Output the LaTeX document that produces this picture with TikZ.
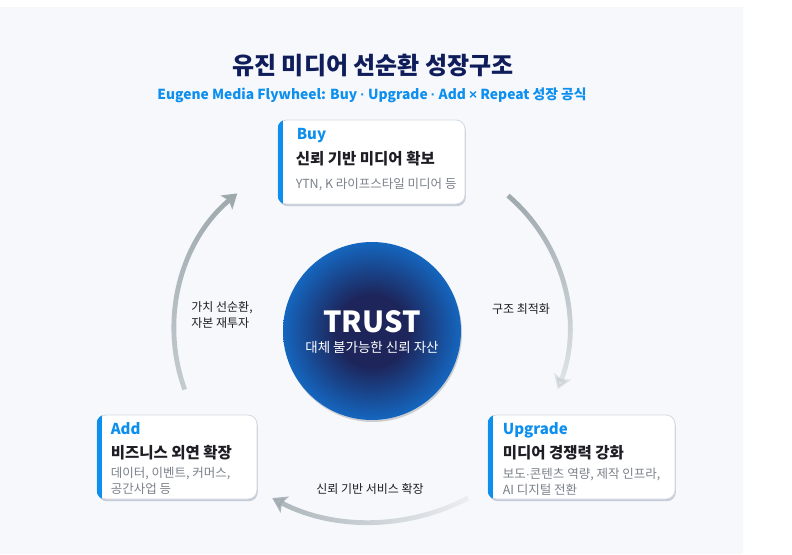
\documentclass[tikz,border=0pt]{standalone}
\usepackage{fontspec}
\setmainfont{Noto Sans CJK KR}
\newfontfamily\latinfont{Liberation Sans}
\usetikzlibrary{arrows.meta, positioning, shadows, fadings}
\definecolor{fwnavy}{HTML}{0F1D5B}
\definecolor{fwblue}{HTML}{0C8FEE}
\definecolor{fwpage}{HTML}{F6F8FC}
\definecolor{fwline}{HTML}{D3DAE4}
\definecolor{fwshadow}{HTML}{7F8A9E}
\definecolor{fwink}{HTML}{1E1E24}
\definecolor{fwgrey}{HTML}{7C818A}
\definecolor{fwarc}{HTML}{9EA9AE}
\definecolor{trustcore}{HTML}{1D255A}
\definecolor{trustedge}{HTML}{1566BF}
\pgfdeclareradialshading{trustshade}{\pgfpoint{0bp}{0bp}}{color(0bp)=(trustcore); color(10bp)=(trustcore); color(25bp)=(trustedge); color(50bp)=(trustedge)}
\tikzfading[name=leftarcfade, top color=transparent!0, bottom color=transparent!45]
\tikzfading[name=rightarcfade, top color=transparent!0, bottom color=transparent!78]
\tikzfading[name=bottomarcfade, left color=transparent!15, right color=transparent!88]

\begin{document}
\begin{tikzpicture}[
    x=1pt, y=-1pt,
    card/.style={draw=fwline, line width=0.8pt, fill=white, rounded corners=9pt, minimum height=84pt,
      drop shadow={shadow xshift=0.8pt, shadow yshift=-2.2pt, opacity=0.4, fill=fwshadow}},
    cardhead/.style={anchor=west, inner sep=0pt, font=\fontsize{15}{17}\selectfont\bfseries, text=fwblue},
    cardmain/.style={anchor=west, inner sep=0pt, font=\fontsize{15.5}{18}\selectfont\bfseries, text=fwink},
    cardnote/.style={anchor=west, inner sep=0pt, align=left, font=\fontsize{12.5}{16}\selectfont, text=fwgrey},
    cue/.style={align=left, inner sep=0pt, font=\fontsize{12}{16}\selectfont, text=fwink},
    flow/.style={line width=4.8pt, draw=fwarc, -{Stealth[length=14pt, width=18pt, inset=3pt]}}
  ]
    \useasboundingbox (0,0) rectangle (792,554);
    \fill[white] (0,0) rectangle (792,554);
    \fill[fwpage] (0,7) rectangle (743,554);

    % heading
    \node[font=\fontsize{24}{28}\selectfont\bfseries, text=fwnavy] (title) at (373,65) {유진 미디어 선순환 성장구조};
    \node[font=\fontsize{13.8}{16}\selectfont\bfseries, text=fwblue] (subtitle) at (372,95)
      {Eugene Media Flywheel: Buy {\latinfont ·} Upgrade {\latinfont ·} Add {\latinfont ×} Repeat 성장 공식};

    % centre
    \node[circle, minimum size=178pt, shade, shading=trustshade,
      drop shadow={shadow xshift=1pt, shadow yshift=-2pt, opacity=0.35}] (trust) at (372,331) {};
    \node[font=\fontsize{29}{32}\selectfont\bfseries, text=white] (trusttitle) at ([yshift=9pt]trust.center) {TRUST};
    \node[font=\fontsize{13.5}{16}\selectfont, text=white] (trustnote) at ([yshift=-16pt]trust.center) {대체 불가능한 신뢰 자산};

    % cards
    \node[card, minimum width=187pt] (buy) at (371.5,162) {};
    \node[card, minimum width=160pt] (add) at (177,457) {};
    \node[card, minimum width=187pt] (upgrade) at (581.5,457) {};
    \foreach \c in {buy, add, upgrade} {
      \begin{scope}
        \clip[rounded corners=9pt] (\c.south west) rectangle (\c.north east);
        \fill[fwblue] (\c.south west) rectangle ([xshift=5pt]\c.north west);
      \end{scope}
    }

    \node[cardhead] (buyhead) at ([xshift=19pt, yshift=-16pt]buy.north west) {Buy};
    \node[cardmain] (buymain) at ([xshift=18pt, yshift=-39pt]buy.north west) {신뢰 기반 미디어 확보};
    \node[cardnote] (buynote) at ([xshift=18pt, yshift=-65pt]buy.north west) {YTN, K 라이프스타일 미디어 등};

    \node[cardhead] (addhead) at ([xshift=14pt, yshift=-14pt]add.north west) {Add};
    \node[cardmain] (addmain) at ([xshift=14pt, yshift=-38pt]add.north west) {비즈니스 외연 확장};
    \node[cardnote] (addnote) at ([xshift=14pt, yshift=-66pt]add.north west) {데이터, 이벤트, 커머스,\\공간사업 등};

    \node[cardhead] (upgradehead) at ([xshift=15pt, yshift=-16pt]upgrade.north west) {Upgrade};
    \node[cardmain] (upgrademain) at ([xshift=15pt, yshift=-38pt]upgrade.north west) {미디어 경쟁력 강화};
    \node[cardnote] (upgradenote) at ([xshift=15pt, yshift=-67pt]upgrade.north west) {보도{\latinfont ·}콘텐츠 역량, 제작 인프라,\\AI 디지털 전환};

    % flywheel arcs
    \coordinate (buyout) at (508,195.7);
    \coordinate (upgradeout) at (468,498.1);
    \coordinate (addout) at (184.7,389.5);
    \draw[flow, path fading=rightarcfade] (buyout) arc[start angle=49.5, end angle=-20.7, radius=174pt];
    \draw[flow, path fading=bottomarcfade] (upgradeout) arc[start angle=-62.5, end angle=-117.5, radius=212pt];
    \draw[flow, path fading=leftarcfade] (addout) arc[start angle=200, end angle=130, radius=177pt];

    \node[cue] (reinvest) at (222,315) {가치 선순환,\\자본 재투자};
    \node[cue] (optimize) at (521,309) {구조 최적화};
    \node[cue] (expand) at (370,489) {신뢰 기반 서비스 확장};
  \end{tikzpicture}
\end{document}
